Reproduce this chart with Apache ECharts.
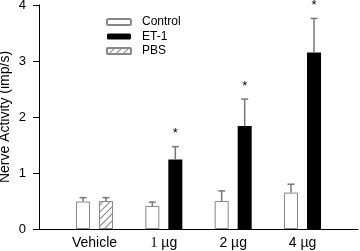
<!DOCTYPE html>
<html>
<head>
<meta charset="utf-8">
<script src="https://cdn.jsdelivr.net/npm/echarts@6/dist/echarts.min.js"></script>
<style>
  html, body { margin: 0; padding: 0; background: #fff; }
  #chart { width: 360px; height: 251px; }
</style>
</head>
<body>
<div id="chart"></div>
<script>
// 分组与数据
const groups = ['Vehicle', '1 µg', '2 µg', '4 µg'];
const groupPos = [1, 2, 3, 4];
const control = [0.49, 0.41, 0.50, 0.65];
const controlErr = [0.07, 0.07, 0.18, 0.15];
const et1 = [null, 1.24, 1.84, 3.15];
const et1Err = [null, 0.23, 0.48, 0.61];
const pbs = [0.50, null, null, null];
const pbsErr = [0.06, null, null, null];
const significant = [false, true, true, true];
const yTicks = [0, 1, 2, 3, 4];

const FONT = 'Liberation Sans';
const BAR_W = 14;
const BAR_GAP = 9;
const OFFSET = (BAR_W + BAR_GAP) / 2;

const myChart = echarts.init(document.getElementById('chart'));

const toPairs = arr => arr.map((v, i) => [groupPos[i], v == null ? '-' : v]);

// 误差棒数据: [x, 均值, 误差, 偏移方向, 显著]
const errData = [];
groupPos.forEach((x, i) => {
  errData.push([x, control[i], controlErr[i], -1, 0]);
  if (et1[i] != null) errData.push([x, et1[i], et1Err[i], 1, significant[i] ? 1 : 0]);
  if (pbs[i] != null) errData.push([x, pbs[i], pbsErr[i], 1, 0]);
});

const option = {
  animation: false,
  textStyle: { fontFamily: FONT },
  grid: { left: 39, right: 2, top: 5, bottom: 22, outerBoundsMode: 'none', containLabel: false },
  legend: {
    orient: 'vertical',
    left: 106,
    top: 16,
    padding: 0,
    itemWidth: 24,
    itemHeight: 6,
    itemGap: 2.5,
    data: ['Control', 'ET-1', 'PBS'],
    textStyle: { fontSize: 12, color: '#000', fontFamily: FONT, padding: [0, 0, 0, 6] }
  },
  xAxis: {
    type: 'value',
    min: 0.2,
    max: 4.8,
    splitLine: { show: false },
    axisTick: { show: false },
    axisLine: { lineStyle: { color: '#000', width: 1 } },
    axisLabel: {
      customValues: groupPos,
      margin: 7,
      color: '#000',
      fontSize: 14,
      formatter: v => {
        const name = groups[groupPos.indexOf(v)] || '';
        return name === '1 µg' ? '{s|1} µg' : name;
      },
      rich: { s: { fontFamily: 'Liberation Serif', fontSize: 14, color: '#000' } }
    }
  },
  yAxis: {
    type: 'value',
    min: yTicks[0],
    max: yTicks[yTicks.length - 1],
    interval: 1,
    name: 'Nerve Activity (imp/s)',
    nameLocation: 'middle',
    nameGap: 27,
    nameMoveOverlap: false,
    nameTextStyle: { fontSize: 14, color: '#000', fontFamily: FONT },
    splitLine: { show: false },
    axisLine: { show: true, lineStyle: { color: '#000', width: 1 } },
    axisTick: { show: true, length: 6, lineStyle: { color: '#000' } },
    axisLabel: { color: '#000', fontSize: 13, margin: 13 }
  },
  series: [
    {
      name: 'Control',
      type: 'bar',
      barWidth: BAR_W,
      barGap: (BAR_GAP / BAR_W * 100) + '%',
      data: toPairs(control),
      itemStyle: { color: '#fff', borderColor: '#888', borderWidth: 1 }
    },
    {
      name: 'ET-1',
      type: 'bar',
      stack: 'b',
      barWidth: BAR_W,
      data: toPairs(et1),
      itemStyle: { color: '#000', borderColor: '#000', borderWidth: 0 }
    },
    {
      name: 'PBS',
      type: 'bar',
      stack: 'b',
      barWidth: BAR_W,
      data: toPairs(pbs),
      itemStyle: {
        color: '#fff',
        borderColor: '#888',
        borderWidth: 1,
        decal: {
          symbol: 'rect',
          symbolSize: 1,
          dashArrayX: [1, 0],
          dashArrayY: [1, 4],
          rotation: -Math.PI / 4,
          color: '#888',
          backgroundColor: '#fff'
        }
      }
    },
    {
      name: 'err',
      type: 'custom',
      z: 5,
      data: errData,
      renderItem: (params, api) => {
        const x = api.value(0);
        const top = api.coord([x, api.value(1)]);
        const hi = api.coord([x, api.value(1) + api.value(2)]);
        const cx = top[0] + api.value(3) * OFFSET;
        const style = { stroke: '#777', lineWidth: 1.5 };
        const children = [
          { type: 'line', shape: { x1: cx, y1: top[1], x2: cx, y2: hi[1] }, style },
          { type: 'line', shape: { x1: cx - 3.5, y1: hi[1], x2: cx + 3.5, y2: hi[1] }, style }
        ];
        if (api.value(4)) {
          children.push({
            type: 'text',
            style: {
              text: '*', x: cx, y: hi[1] - 13,
              align: 'center', verticalAlign: 'middle',
              fontSize: 13, fontFamily: FONT, fill: '#000'
            }
          });
        }
        return { type: 'group', children };
      }
    }
  ]
};

myChart.setOption(option);
</script>
</body>
</html>
